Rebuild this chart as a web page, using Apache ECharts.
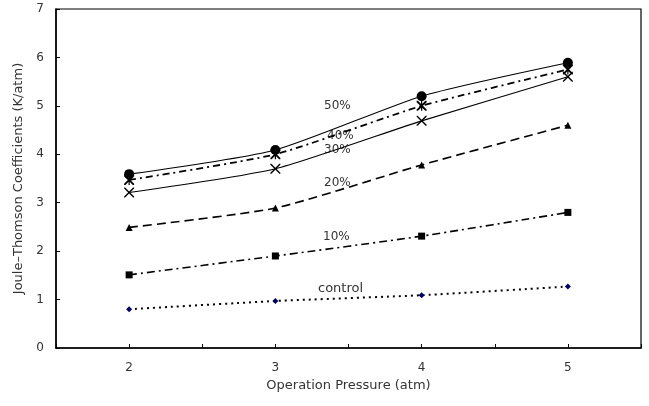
<!DOCTYPE html>
<html style="height: 100%">
<head>
    <meta charset="utf-8">
    <title>Joule-Thomson</title>
    <script src="https://cdn.jsdelivr.net/npm/echarts@6/dist/echarts.min.js"></script>
</head>
<body style="height: 100%; margin: 0; background: #fff">
<div id="main" style="width: 649px; height: 406px"></div>

<script type="text/javascript">
    // operation pressure (atm)
    var pressures = [2, 3, 4, 5];
    var control = [0.80, 0.97, 1.09, 1.27];
    var p10 = [1.51, 1.90, 2.31, 2.80];
    var p20 = [2.49, 2.89, 3.78, 4.60];
    var p30 = [3.21, 3.70, 4.69, 5.60];
    var p40 = [3.47, 4.00, 5.00, 5.75];
    var p50 = [3.59, 4.09, 5.20, 5.89];
    var yTicks = [0, 1, 2, 3, 4, 5, 6, 7];

    function pairs(vals) {
        var out = [];
        for (var i = 0; i < pressures.length; i++) {
            out.push([pressures[i], vals[i]]);
        }
        return out;
    }

    var xMark = 'path://M0,0 L1,0 L5,4 L9,0 L10,0 L10,1 L6,5 L10,9 L10,10 L9,10 L5,6 L1,10 L0,10 L0,9 L4,5 L0,1 Z';
    var starMark = 'path://M0,0 L1.3,0 L5,3.7 L8.7,0 L10,0 L10,1.3 L6.3,5 L10,8.7 L10,10 L8.7,10 L5,6.3 L1.3,10 L0,10 L0,8.7 L3.7,5 L0,1.3 Z M4.4,0 L5.6,0 L5.6,10 L4.4,10 Z';

    function line(name, vals, symbol, size, dash, width, color) {
        return {
            name: name,
            type: 'line',
            data: pairs(vals),
            smooth: 0.2,
            symbol: symbol,
            symbolSize: size,
            showSymbol: true,
            itemStyle: {color: color || '#000'},
            lineStyle: {color: '#000', width: width, type: dash},
            z: 3
        };
    }

    var myChart = echarts.init(document.getElementById('main'));
    var labelFont = {fontFamily: 'DejaVu Sans', fontSize: 12, fill: '#333'};

    option = {
        animation: false,
        grid: {
            left: 56, right: 8, top: 9, bottom: 58,
            show: true, borderColor: '#000', borderWidth: 1.2
        },
        xAxis: {
            type: 'value',
            min: 1.5, max: 5.5, interval: 0.5,
            name: 'Operation Pressure (atm)',
            nameLocation: 'middle',
            nameGap: 30,
            nameTextStyle: {fontFamily: 'DejaVu Sans', fontSize: 13, color: '#333'},
            axisLine: {lineStyle: {color: '#000', width: 1.5}},
            axisTick: {inside: true, length: 4, lineStyle: {color: '#000'}},
            splitLine: {show: false},
            axisLabel: {
                margin: 14,
                color: '#333',
                fontFamily: 'DejaVu Sans',
                fontSize: 12,
                formatter: function (v) {
                    return pressures.indexOf(v) >= 0 ? String(v) : '';
                }
            }
        },
        yAxis: {
            type: 'value',
            min: yTicks[0], max: yTicks[yTicks.length - 1], interval: 1,
            name: 'Joule–Thomson Coefficients (K/atm)',
            nameLocation: 'middle',
            nameGap: 29,
            nameTextStyle: {fontFamily: 'DejaVu Sans', fontSize: 13, color: '#333'},
            axisLine: {show: true, lineStyle: {color: '#000', width: 1.5}},
            axisTick: {show: true, inside: true, length: 4, lineStyle: {color: '#000'}},
            splitLine: {show: false},
            axisLabel: {margin: 12, color: '#333', fontFamily: 'DejaVu Sans', fontSize: 12}
        },
        series: [
            line('control', control, 'diamond', 6, [2, 4], 2, '#000066'),
            line('10%', p10, 'rect', 7, [8, 4, 2, 4], 1.6),
            line('20%', p20, 'triangle', 7, [9, 5], 1.6),
            line('30%', p30, xMark, 10, 'solid', 1.1),
            line('40%', p40, starMark, 10, [7, 4, 2, 4], 1.8),
            line('50%', p50, 'circle', 10, 'solid', 1.1)
        ],
        graphic: [
            {type: 'text', left: 324, top: 100, style: Object.assign({text: '50%'}, labelFont)},
            {type: 'text', left: 327, top: 130, style: Object.assign({text: '40%'}, labelFont)},
            {type: 'text', left: 324, top: 144, style: Object.assign({text: '30%'}, labelFont)},
            {type: 'text', left: 324, top: 177, style: Object.assign({text: '20%'}, labelFont)},
            {type: 'text', left: 323, top: 231, style: Object.assign({text: '10%'}, labelFont)},
            {type: 'text', left: 318, top: 282, style: Object.assign({text: 'control'}, labelFont, {fontSize: 13})}
        ]
    };
    myChart.setOption(option, true);
</script>
</body>
</html>
